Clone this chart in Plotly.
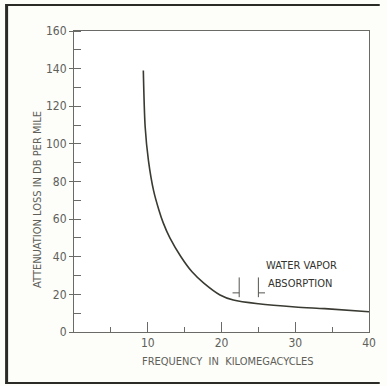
import plotly.graph_objects as go

# Data
freq_kmc = [9.4, 9.65, 10.1, 10.8, 11.5, 12.1, 13.0, 14.5, 16.0, 17.6, 19.8, 21.6, 25.0, 30.0, 34.0, 40.0]
atten_db = [139, 109, 91, 75, 65, 58, 50, 40, 32, 26, 19.7, 17.0, 15.0, 13.3, 12.4, 10.8]
vapor_band = [22.4, 25.0]
vapor_label = ["WATER VAPOR", "ABSORPTION"]
x_ticks = [10, 20, 30, 40]
y_ticks = [0, 20, 40, 60, 80, 100, 120, 140, 160]

W, H = 387, 386
L, R, T, B = 74, 11, 31, 54
FONT = "DejaVu Sans Condensed, Liberation Sans Narrow, Arial Narrow, Liberation Sans, sans-serif"
TXT = "#606059"
AX = "#6a6a66"

def px(xp):
    return (xp - L) / (W - L - R)

def py(yp):
    return (H - B - yp) / (H - T - B)

fig = go.Figure()
fig.add_trace(go.Scatter(
    x=freq_kmc, y=atten_db, mode="lines",
    line=dict(color="#3a3a32", width=1.6, shape="spline", smoothing=0.8),
    hoverinfo="skip", showlegend=False))

shapes = []
# water vapour band markers
for i, xv in enumerate(vapor_band):
    shapes.append(dict(type="line", xref="x", yref="y", x0=xv, x1=xv, y0=18.5, y1=29,
                       line=dict(color="#55554f", width=1)))
    d = -0.9 if i == 0 else 0.9
    shapes.append(dict(type="line", xref="x", yref="y", x0=xv + d, x1=xv, y0=20.8, y1=20.8,
                       line=dict(color="#55554f", width=1)))
# outer frame of the scanned figure
shapes += [
    dict(type="line", xref="paper", yref="paper", x0=px(4), x1=px(387), y0=py(5), y1=py(5),
         line=dict(color="#2a2a26", width=2)),
    dict(type="line", xref="paper", yref="paper", x0=px(5), x1=px(5), y0=py(4), y1=py(384),
         line=dict(color="#2a2a26", width=3)),
    dict(type="line", xref="paper", yref="paper", x0=px(4), x1=px(387), y0=py(383), y1=py(383),
         line=dict(color="#2a2a26", width=2)),
]

annotations = [
    dict(xref="x", yref="y", x=25.8, y=35.5, text=vapor_label[0], showarrow=False,
         xanchor="left", yanchor="middle", font=dict(family=FONT, size=11, color="#33332e")),
    dict(xref="x", yref="y", x=26.0, y=26.0, text=vapor_label[1], showarrow=False,
         xanchor="left", yanchor="middle", font=dict(family=FONT, size=11, color="#33332e")),
    dict(xref="paper", yref="paper", x=px(36), y=py(199), text="ATTENUATION LOSS IN DB PER MILE",
         textangle=-90, showarrow=False, xanchor="center", yanchor="middle",
         font=dict(family=FONT, size=11, color=TXT)),
    dict(xref="paper", yref="paper", x=px(232), y=py(361), text="FREQUENCY  IN  KILOMEGACYCLES",
         showarrow=False, xanchor="center", yanchor="middle",
         font=dict(family=FONT, size=11, color=TXT)),
]

fig.update_layout(
    width=W, height=H,
    margin=dict(l=L, r=R, t=T, b=B),
    paper_bgcolor="#fdfdf9", plot_bgcolor="#ffffff",
    showlegend=False,
    shapes=shapes, annotations=annotations,
    xaxis=dict(range=[0, 40], tickvals=x_ticks, ticktext=[str(v) for v in x_ticks],
               ticks="inside", ticklen=10, tickcolor=AX, tickwidth=1,
               minor=dict(dtick=5, tick0=0, ticks="inside", ticklen=5, tickcolor=AX, showgrid=False),
               showline=True, linecolor=AX, linewidth=1, mirror=True,
               showgrid=False, zeroline=False,
               tickfont=dict(family=FONT, size=12, color=TXT)),
    yaxis=dict(range=[0, 160], tickvals=y_ticks, ticktext=[str(v) for v in y_ticks],
               ticks="outside", ticklen=4, tickcolor=AX, tickwidth=1,
               minor=dict(dtick=10, tick0=0, ticks="inside", ticklen=7, tickcolor=AX, showgrid=False),
               showline=True, linecolor=AX, linewidth=1, mirror=True,
               showgrid=False, zeroline=False,
               tickfont=dict(family=FONT, size=12, color=TXT)),
)

fig.write_html("out.html", config={"displayModeBar": False, "staticPlot": True},
               post_script="document.body.style.margin='0';document.body.style.overflow='hidden';")
